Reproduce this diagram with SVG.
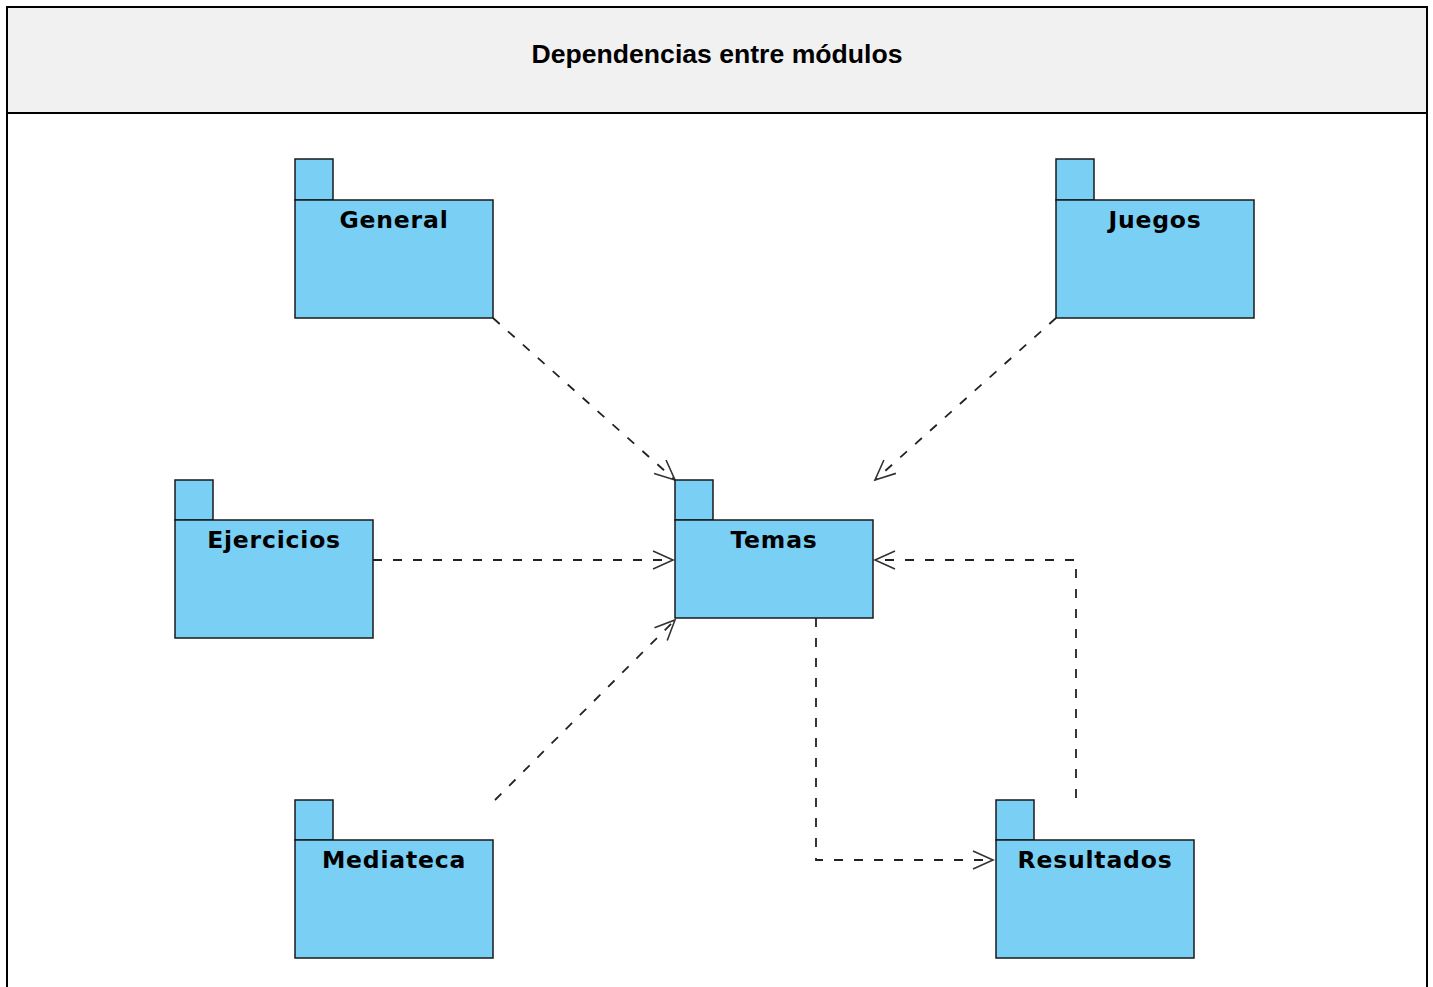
<svg xmlns="http://www.w3.org/2000/svg" width="1433" height="987" viewBox="0 0 1433 987">
  <style>
    .pkg { fill: #7acff4; stroke: #1a1a1a; stroke-width: 1.5; }
    .lbl { font-family: "DejaVu Sans", Verdana, sans-serif; font-weight: bold; font-size: 23.5px; fill: #000; text-anchor: middle; letter-spacing: 0.8px; }
    .dep { fill: none; stroke: #222; stroke-width: 1.8; stroke-dasharray: 9 11; }
    .title { font-family: "Liberation Sans", Arial, sans-serif; font-weight: bold; font-size: 26.6px; text-anchor: middle; fill: #000; }
  </style>
  <defs>
    <!-- open UML dependency arrowhead -->
    <marker id="open" viewBox="0 0 24 24" refX="22" refY="12" markerWidth="24" markerHeight="24" markerUnits="userSpaceOnUse" orient="auto">
      <path d="M2,3 L22,12 L2,21" fill="none" stroke="#333" stroke-width="1.6"/>
    </marker>
  </defs>
  <rect width="1433" height="987" fill="#fff"/>
  <!-- frame -->
  <g id="frame">
    <rect x="7" y="7" width="1420" height="106" fill="#f1f1f1"/>
    <path d="M7,995 V7 H1427 V995 M7,113 H1427" fill="none" stroke="#000" stroke-width="2"/>
    <text class="title" x="717" y="63">Dependencias entre módulos</text>
  </g>
  <!-- connectors -->
  <g id="connectors">
    <path class="dep" d="M493,318 L675,480" marker-end="url(#open)"/>
    <path class="dep" d="M1056,318 L875,480" marker-end="url(#open)"/>
    <path class="dep" d="M373,560 L673,560" marker-end="url(#open)"/>
    <path class="dep" d="M495,800 L675,620" marker-end="url(#open)"/>
    <path class="dep" d="M816,618 V860 H993" marker-end="url(#open)"/>
    <path class="dep" d="M1076,798 V560 H875" marker-end="url(#open)"/>
  </g>
  <!-- packages -->
  <g id="General">
    <rect class="pkg" x="295" y="159" width="38" height="41"/>
    <rect class="pkg" x="295" y="200" width="198" height="118"/>
    <text class="lbl" x="394" y="228">General</text>
  </g>
  <g id="Juegos">
    <rect class="pkg" x="1056" y="159" width="38" height="41"/>
    <rect class="pkg" x="1056" y="200" width="198" height="118"/>
    <text class="lbl" x="1155" y="228">Juegos</text>
  </g>
  <g id="Ejercicios">
    <rect class="pkg" x="175" y="480" width="38" height="40"/>
    <rect class="pkg" x="175" y="520" width="198" height="118"/>
    <text class="lbl" x="274" y="548">Ejercicios</text>
  </g>
  <g id="Temas">
    <rect class="pkg" x="675" y="480" width="38" height="40"/>
    <rect class="pkg" x="675" y="520" width="198" height="98"/>
    <text class="lbl" x="774" y="548">Temas</text>
  </g>
  <g id="Mediateca">
    <rect class="pkg" x="295" y="800" width="38" height="40"/>
    <rect class="pkg" x="295" y="840" width="198" height="118"/>
    <text class="lbl" x="394" y="868">Mediateca</text>
  </g>
  <g id="Resultados">
    <rect class="pkg" x="996" y="800" width="38" height="40"/>
    <rect class="pkg" x="996" y="840" width="198" height="118"/>
    <text class="lbl" x="1095" y="868">Resultados</text>
  </g>
</svg>
